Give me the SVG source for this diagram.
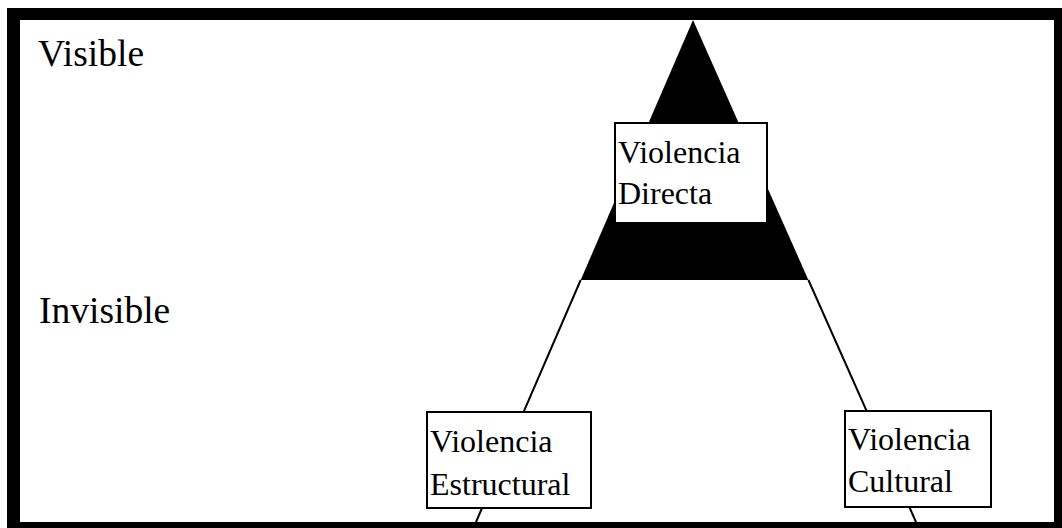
<svg xmlns="http://www.w3.org/2000/svg" width="1062" height="528" viewBox="0 0 1062 528">
<style>
.box{fill:#fff;stroke:#000;stroke-width:2}
.t{font-family:"Liberation Serif","Times New Roman",serif;fill:#000}
.bt{font-size:32px}
.lt{font-size:37.5px}
.edge{stroke:#000;stroke-width:2;fill:none}
</style>
<rect x="0" y="0" width="1062" height="528" fill="#fff"/>
<path d="M7 8H1062V528H7Z M20 20V522H1054V20Z" fill="#000" fill-rule="evenodd"/>
<g id="pyramid-top">
<polygon points="693,20 808.4,280 580.7,280" fill="#000"/>
</g>
<g id="connectors">
<line class="edge" x1="580.7" y1="280" x2="476" y2="522"/>
<line class="edge" x1="808.4" y1="280" x2="916" y2="522"/>
</g>
<g id="label-visible"><text class="t lt" x="38" y="66">Visible</text></g>
<g id="label-invisible"><text class="t lt" x="39" y="323">Invisible</text></g>
<g id="directa">
<rect class="box" x="615" y="123" width="152" height="100"/>
<text class="t bt" x="618" y="163">Violencia</text>
<text class="t bt" x="618" y="204">Directa</text>
</g>
<g id="estructural">
<rect class="box" x="427" y="412" width="164" height="96"/>
<text class="t bt" x="430" y="452">Violencia</text>
<text class="t bt" x="430" y="495">Estructural</text>
</g>
<g id="cultural">
<rect class="box" x="845" y="411" width="146" height="96"/>
<text class="t bt" x="848" y="450">Violencia</text>
<text class="t bt" x="848" y="492">Cultural</text>
</g>
</svg>
